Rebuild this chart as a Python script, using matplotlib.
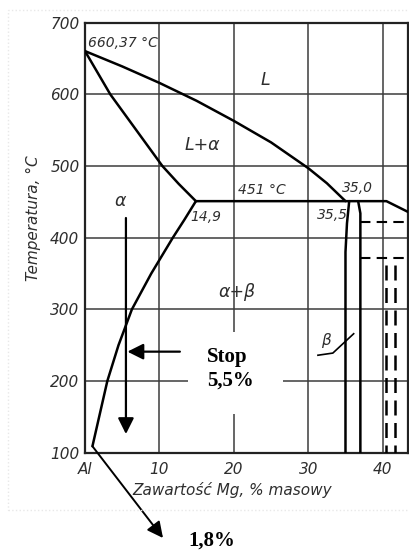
import numpy as np
import matplotlib
matplotlib.use('Agg')
import matplotlib.pyplot as plt
from matplotlib.patches import Rectangle

# uklad rownowagi Al-Mg, strona bogata w aluminium
liq_mg = [0, 5, 10, 15, 20, 25, 30, 32.5, 35.0]
liq_t = [660.37, 639, 616, 591, 563, 533, 497, 476, 451]
sol_mg = [0, 3.4, 6.9, 10.4, 12.6, 14.9]
sol_t = [660.37, 600, 550, 500, 475, 451]
solv_mg = [14.9, 13.35, 11.8, 8.9, 6.3, 4.5, 3.0, 1.9, 1.0]
solv_t = [451, 425, 400, 350, 300, 250, 200, 150, 109]
eut_mg = [14.9, 40.5, 43.4]
eut_t = [451, 451, 436]
beta_l_mg = [35.5, 35.2, 35.0, 35.0]
beta_l_t = [451, 420, 380, 100]
beta_r_mg = [36.7, 37.0, 37.0]
beta_r_t = [451, 434, 100]
dash_h_t = [422, 371]
dash_v_mg = [40.5, 41.7]
dash_v_top = 362
alloy_mg = 5.5

x_ticks = [0, 10, 20, 30, 40]
x_labels = ['Al', '10', '20', '30', '40']
y_ticks = [100, 200, 300, 400, 500, 600, 700]

W, H = 410, 553
fig = plt.figure(figsize=(W / 100, H / 100), dpi=100)
ax = fig.add_axes([85 / W, 1 - 452.7 / H, (408 - 85) / W, (452.7 - 22.7) / H])
ax.set_xlim(0, 43.4)
ax.set_ylim(100, 700)

txt = '#2e2e2e'
it = dict(style='italic', color=txt, family='DejaVu Sans')

ax.set_xticks(x_ticks)
ax.set_xticklabels(x_labels, **it, fontsize=11)
ax.set_yticks(y_ticks)
ax.set_yticklabels([str(v) for v in y_ticks], **it, fontsize=11)
ax.tick_params(axis='x', length=0, pad=7)
ax.tick_params(axis='y', length=0, pad=4)
ax.grid(color='#3c3c3c', lw=1.1)
ax.set_axisbelow(True)
for s in ax.spines.values():
    s.set_color('#222222')
    s.set_linewidth(1.6)

# linie ukladu
lk = dict(color='k', lw=1.8, solid_capstyle='round', solid_joinstyle='round', zorder=3)
ax.plot(liq_mg, liq_t, **lk)
ax.plot(sol_mg, sol_t, **lk)
ax.plot(solv_mg, solv_t, **lk)
ax.plot(eut_mg, eut_t, **lk)
ax.plot(beta_l_mg, beta_l_t, **lk)
ax.plot(beta_r_mg, beta_r_t, **lk)
for t in dash_h_t:
    ax.plot([beta_r_mg[-1], 43.4], [t, t], color='k', lw=1.5, ls=(0, (5, 3)), zorder=3)
for m in dash_v_mg:
    ax.plot([m, m], [dash_v_top, 100], color='k', lw=1.8, ls=(0, (6, 3)), zorder=3)

# opisy obszarow
ax.text(0.4, 672, '660,37 °C', fontsize=10, ha='left', va='center', **it)
ax.text(24.2, 620, 'L', fontsize=12.5, ha='center', va='center', **it)
ax.text(15.7, 529, 'L+α', fontsize=12.5, ha='center', va='center', **it)
ax.text(23.8, 467, '451 °C', fontsize=10, ha='center', va='center', **it)
ax.text(36.6, 469, '35,0', fontsize=10, ha='center', va='center', **it)
ax.text(14.1, 429, '14,9', fontsize=10, ha='left', va='center', **it)
ax.text(33.2, 432, '35,5', fontsize=10, ha='center', va='center', **it)
ax.text(4.7, 451, 'α', fontsize=12.5, ha='center', va='center', **it)
ax.text(20.4, 324, 'α+β', fontsize=12.5, ha='center', va='center', **it)
ax.text(32.4, 257, 'β', fontsize=11, ha='center', va='center', **it)
ax.plot([31.3, 33.3, 36.1], [236, 239, 266], color='k', lw=1.2, zorder=3)

# stop 5,5 %
ax.add_patch(Rectangle((13.8, 154), 26.6 - 13.8, 268.4 - 154, fc='white', ec='none', zorder=1.5))
bold = dict(family='Liberation Serif', fontweight='bold', fontsize=15, color='k')
ax.text(16.4, 233.6, 'Stop', ha='left', va='center', **bold)
ax.text(16.4, 200, '5,5%', ha='left', va='center', **bold)

arr = dict(arrowstyle='-|>', color='k', lw=1.6, mutation_scale=24, shrinkA=0, shrinkB=0)
ax.annotate('', xy=(alloy_mg, 126), xytext=(alloy_mg, 427.5), arrowprops=arr, zorder=4)
ax.annotate('', xy=(alloy_mg + 0.2, 241), xytext=(12.75, 241), arrowprops=arr, zorder=4)
ax.annotate('', xy=(163 / W, 1 - 538 / H), xycoords='figure fraction',
            xytext=(solv_mg[-1], solv_t[-1]), textcoords='data',
            arrowprops=dict(arr, lw=1.4), annotation_clip=False, zorder=4)
fig.text(212 / W, 1 - 541 / H, '1,8%', ha='center', va='center', **bold)

fig.text(33 / W, 1 - 218 / H, 'Temperatura, °C', rotation=90, fontsize=11,
         ha='center', va='center', **it)
fig.text(232 / W, 1 - 490 / H, 'Zawartość Mg, % masowy', fontsize=11,
         ha='center', va='center', **it)

fig.add_artist(Rectangle((8 / W, 1 - 510 / H), (W - 8) / W, 500 / H,
                         transform=fig.transFigure, fill=False, ec='#e8e8e8', lw=1, ls=':'))

fig.savefig('out.png', dpi=100)
